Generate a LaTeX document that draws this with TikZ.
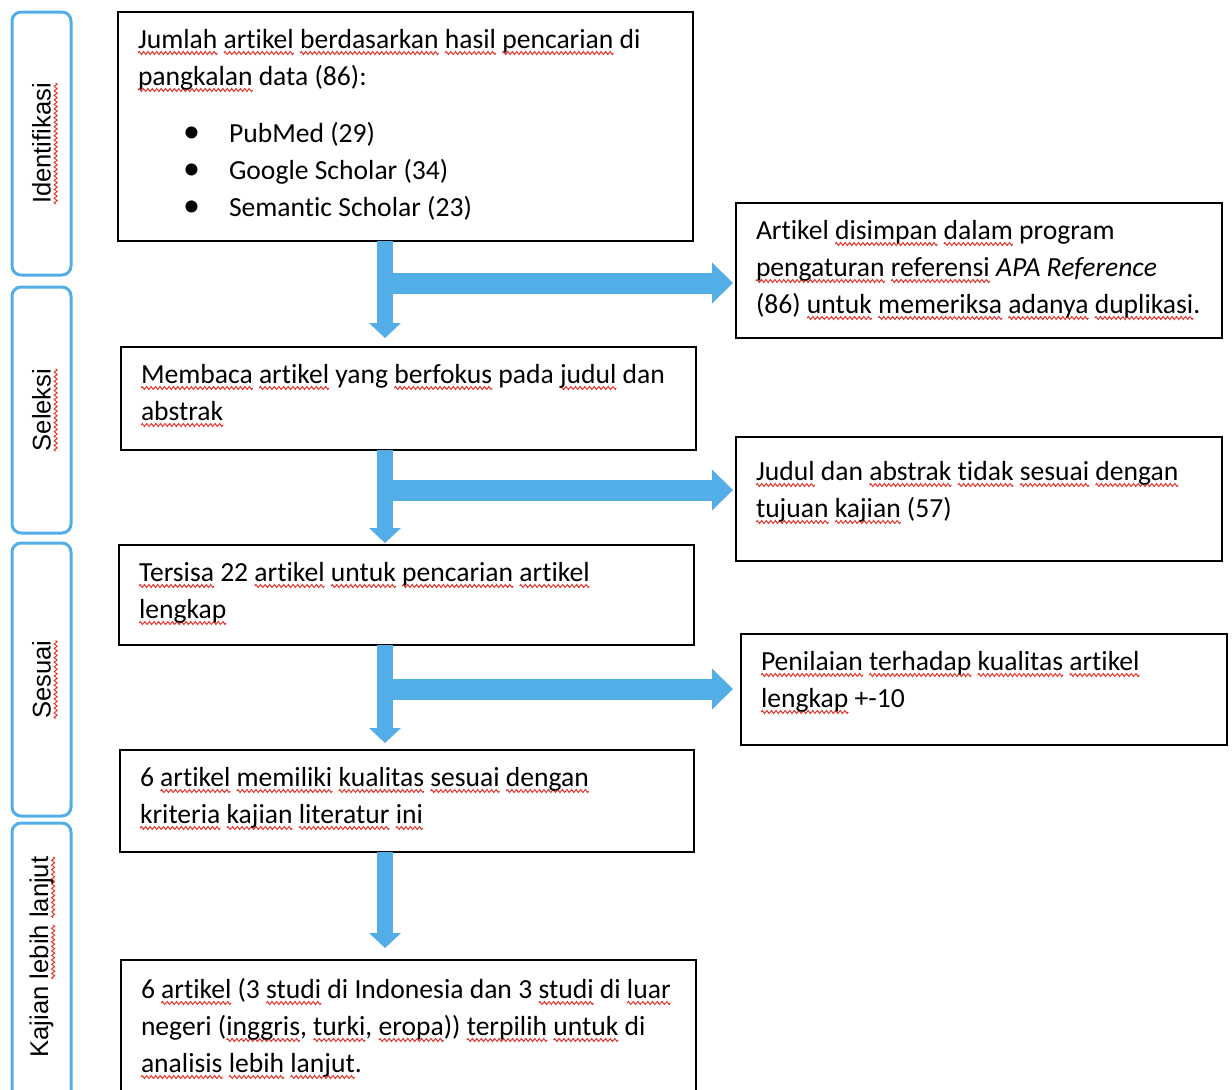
\documentclass[tikz,border=0pt]{standalone}
\usepackage{fontspec}
\setmainfont{Carlito}[Ligatures=NoCommon]
\newfontfamily\labelfam{Liberation Sans}
\usepackage{xcolor}
\definecolor{flowBlue}{RGB}{83,174,232}
\definecolor{spellRed}{RGB}{226,52,45}
\usepackage{tikz}
\usetikzlibrary{arrows.meta,calc,positioning}
\newsavebox{\wavebox}
\AtBeginDocument{\sbox{\wavebox}{\begin{pgfpicture}
  \pgfsetbaseline{0pt}
  \pgfsetlinewidth{1pt}\pgfsetstrokecolor{spellRed}
  \pgfpathmoveto{\pgfpoint{0pt}{0pt}}
  \pgfpathsine{\pgfpoint{1.1pt}{1.5pt}}\pgfpathcosine{\pgfpoint{1.1pt}{-1.5pt}}
  \pgfpathsine{\pgfpoint{1.1pt}{-1.5pt}}\pgfpathcosine{\pgfpoint{1.1pt}{1.5pt}}
  \pgfusepath{stroke}
  \pgfresetboundingbox
  \pgfpathrectangle{\pgfpoint{0pt}{-1.5pt}}{\pgfpoint{4.4pt}{3pt}}
  \pgfusepath{use as bounding box}
\end{pgfpicture}}}
\newcommand{\sq}[1]{\leavevmode\setbox0\hbox{#1}\rlap{\raisebox{-5pt}[0pt][0pt]{\hbox to\wd0{\xleaders\copy\wavebox\hfil}}}\box0\relax}
\newcommand{\bodytext}{\fontsize{27.6}{37}\selectfont}
\newcommand{\itembullet}{\hspace*{45pt}\makebox[46pt][l]{\fontsize{34}{34}\selectfont\textbullet}}
\tikzstyle{flowbox}=[draw=black, line width=2pt, anchor=north west, outer sep=0pt, inner xsep=20pt, inner ysep=0pt, align=flush left, font=\bodytext, text height=36pt]
\tikzstyle{stagebox}=[draw=flowBlue, line width=3pt, rounded corners=9pt, anchor=north west, outer sep=0pt, inner sep=0pt, minimum width=59pt]
\tikzstyle{stagelabel}=[rotate=90, font=\labelfam\fontsize{25.6}{30}\selectfont]
\tikzstyle{downarrow}=[draw=flowBlue, line width=16pt, -{Triangle[width=32pt,length=15pt,line width=0pt]}]
\tikzstyle{sidearrow}=[draw=flowBlue, line width=21pt, -{Triangle[width=41pt,length=21pt,line width=0pt]}]

\begin{document}
\begin{tikzpicture}[x=1pt, y=-1pt]
    \clip (0,0) rectangle (1232,1090);

    % Tahap (kolom kiri)
    \node[stagebox, minimum height=263pt] (s1) at (12,12) {};
    \node[stagebox, minimum height=246pt] (s2) at (12,287) {};
    \node[stagebox, minimum height=273pt] (s3) at (12,543) {};
    \node[stagebox, minimum height=290pt] (s4) at (12,823) {};
    \node[stagelabel] (t1) at (s1.center) {\sq{Identifikasi}};
    \node[stagelabel] (t2) at (s2.center) {\sq{Seleksi}};
    \node[stagelabel] (t3) at (s3.center) {\sq{Sesuai}};
    \node[stagelabel] (t4) at ($(s4.north)+(0,134)$) {Kajian \sq{lebih} \sq{lanjut}};

    % Kotak alur utama
    \node[flowbox, text width=535pt, text depth=193pt] (b1) at (118,12)
      {\mbox{\sq{Jumlah} \sq{artikel} \sq{berdasarkan} \sq{hasil} \sq{pencarian} di}\\
       \sq{pangkalan} data (86):\\[20pt]
       \itembullet PubMed (29)\\
       \itembullet Google Scholar (34)\\
       \itembullet Semantic Scholar (23)};
    \node[flowbox, text width=535pt, text depth=67pt] (b2) at (121,347)
      {\mbox{\sq{Membaca} \sq{artikel} yang \sq{berfokus} pada \sq{judul} dan}\\
       \sq{abstrak}};
    \node[flowbox, text width=535pt, text depth=64pt] (b3) at (119,545)
      {\mbox{\sq{Tersisa} 22 \sq{artikel} \sq{untuk} \sq{pencarian} \sq{artikel}}\\
       \sq{lengkap}};
    \node[flowbox, text width=534pt, text depth=66pt] (b4) at (120,750)
      {\mbox{6 \sq{artikel} \sq{memiliki} \sq{kualitas} \sq{sesuai} \sq{dengan}}\\
       \sq{kriteria} \sq{kajian} \sq{literatur} \sq{ini}};
    \node[flowbox, text width=535pt, text height=38pt, text depth=102pt] (b5) at (121,960)
      {\mbox{6 \sq{artikel} (3 \sq{studi} di Indonesia dan 3 \sq{studi} di \sq{luar}}\\
       \mbox{negeri (\sq{inggris}, \sq{turki}, \sq{eropa})) \sq{terpilih} \sq{untuk} di}\\
       \sq{analisis} \sq{lebih} \sq{lanjut}.};

    % Kotak samping
    \node[flowbox, text width=446pt, text depth=99pt] (r1) at (736,203)
      {\mbox{Artikel \sq{disimpan} \sq{dalam} program}\\
       \mbox{\sq{pengaturan} \sq{referensi} \textit{APA Reference}}\\
       \mbox{(86) \sq{untuk} \sq{memeriksa} \sq{adanya} \sq{duplikasi}.}};
    \node[flowbox, text width=446pt, text height=43pt, text depth=81pt] (r2) at (736,437)
      {\mbox{\sq{Judul} dan \sq{abstrak} \sq{tidak} \sq{sesuai} \sq{dengan}}\\
       \sq{tujuan} \sq{kajian} (57)};
    \node[flowbox, text width=446pt, text depth=75pt] (r3) at (741,634)
      {\mbox{\sq{Penilaian} \sq{terhadap} \sq{kualitas} \sq{artikel}}\\
       \sq{lengkap} +-10};

    % Titik cabang
    \coordinate (j1) at (385,283);
    \coordinate (j2) at (385,490);
    \coordinate (j3) at (385,689);

    % Panah
    \draw[downarrow, shorten >=9pt] (j1 |- b1.south) -- (j1 |- b2.north);
    \draw[downarrow, shorten >=2pt] (j2 |- b2.south) -- (j2 |- b3.north);
    \draw[downarrow, shorten >=7pt] (j3 |- b3.south) -- (j3 |- b4.north);
    \draw[downarrow, shorten >=12pt] (j3 |- b4.south) -- (j3 |- b5.north);
    \draw[sidearrow, shorten >=3pt] (j1) -- (r1.west |- j1);
    \draw[sidearrow, shorten >=3pt] (j2) -- (r2.west |- j2);
    \draw[sidearrow, shorten >=8pt] (j3) -- (r3.west |- j3);
\end{tikzpicture}
\end{document}
